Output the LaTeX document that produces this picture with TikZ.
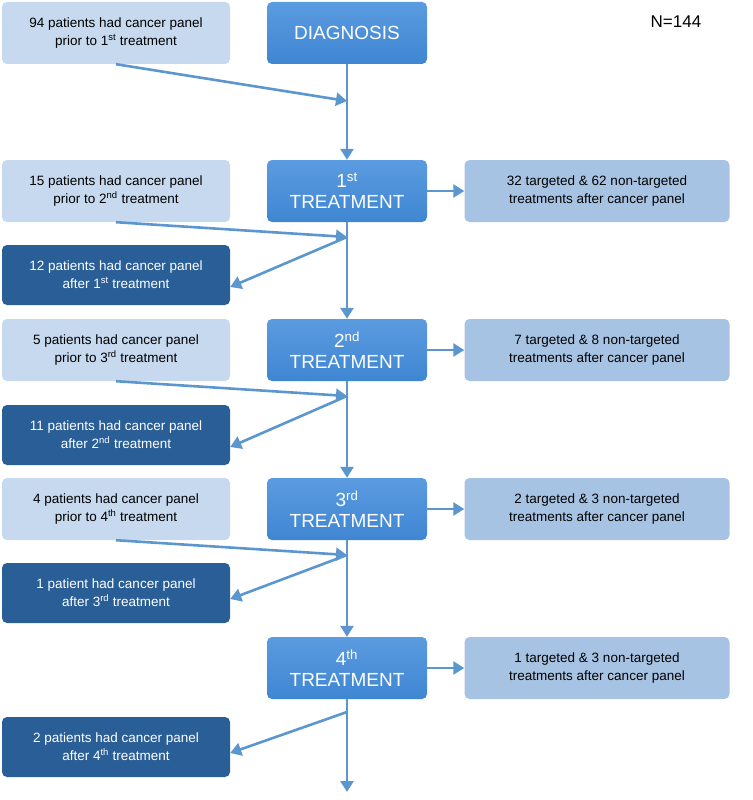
\documentclass[tikz,border=0pt]{standalone}
\usepackage{fontspec}
\setmainfont{Liberation Sans}
\usetikzlibrary{arrows.meta}
\definecolor{mainb}{HTML}{3F86D2}
\definecolor{mainb2}{HTML}{5B9BE0}
\definecolor{lightb}{HTML}{C6D9EF}
\definecolor{midb}{HTML}{A7C3E3}
\definecolor{darkb}{HTML}{2A5E97}
\definecolor{arr}{HTML}{5B96CF}
\begin{document}
\begin{tikzpicture}[x=1pt,y=-1pt,
 box/.style={rounded corners=5pt,align=center,inner sep=0pt},
 mainbox/.style={box,top color=mainb2,bottom color=mainb,minimum width=160pt,minimum height=62pt,text=white,font=\fontsize{19}{21}\selectfont},
 lbox/.style={box,fill=lightb,minimum width=228pt,minimum height=62pt,font=\fontsize{13.5}{18}\selectfont},
 rbox/.style={box,fill=midb,minimum width=265pt,minimum height=62pt,font=\fontsize{13.5}{18}\selectfont},
 dbox/.style={box,fill=darkb,text=white,minimum width=228pt,minimum height=60pt,font=\fontsize{13.5}{18}\selectfont},
 ar/.style={draw=arr,line width=2.6pt,-{Triangle[length=11pt,width=13pt]}}]
\useasboundingbox (0,0) rectangle (752,800);
\node[mainbox] (d) at (347,33) {DIAGNOSIS};
\node[mainbox] (t1) at (347,191) {1\textsuperscript{st}\\TREATMENT};
\node[mainbox] (t2) at (347,350) {2\textsuperscript{nd}\\TREATMENT};
\node[mainbox] (t3) at (347,509) {3\textsuperscript{rd}\\TREATMENT};
\node[mainbox] (t4) at (347,668) {4\textsuperscript{th}\\TREATMENT};
\node[font=\fontsize{17}{20}\selectfont] (n) at (676,22) {N=144};
\node[lbox] (p1) at (116,33) {94 patients had cancer panel\\prior to 1\textsuperscript{st} treatment};
\node[lbox] (p2) at (116,191) {15 patients had cancer panel\\prior to 2\textsuperscript{nd} treatment};
\node[lbox] (p3) at (116,350) {5 patients had cancer panel\\prior to 3\textsuperscript{rd} treatment};
\node[lbox] (p4) at (116,509) {4 patients had cancer panel\\prior to 4\textsuperscript{th} treatment};
\node[dbox] (a1) at (116,275) {12 patients had cancer panel\\after 1\textsuperscript{st} treatment};
\node[dbox] (a2) at (116,435) {11 patients had cancer panel\\after 2\textsuperscript{nd} treatment};
\node[dbox] (a3) at (116,593) {1 patient had cancer panel\\after 3\textsuperscript{rd} treatment};
\node[dbox] (a4) at (116,747) {2 patients had cancer panel\\after 4\textsuperscript{th} treatment};
\node[rbox] (r1) at (597,191) {32 targeted \& 62 non-targeted\\treatments after cancer panel};
\node[rbox] (r2) at (597,350) {7 targeted \& 8 non-targeted\\treatments after cancer panel};
\node[rbox] (r3) at (597,509) {2 targeted \& 3 non-targeted\\treatments after cancer panel};
\node[rbox] (r4) at (597,668) {1 targeted \& 3 non-targeted\\treatments after cancer panel};
\coordinate (m0) at (347,101);
\coordinate (m1) at (347,237);
\coordinate (m2) at (347,396);
\coordinate (m3) at (347,555);
\coordinate (m4) at (347,712);
\coordinate (end) at (347,792);
\draw[ar] (d) -- (t1);
\draw[ar] (t1) -- (t2);
\draw[ar] (t2) -- (t3);
\draw[ar] (t3) -- (t4);
\draw[ar] (t4) -- (end);
\draw[ar] (p1.south) ++(0,0) -- (m0);
\draw[ar] (p2.south) -- (m1);
\draw[ar] (p3.south) -- (m2);
\draw[ar] (p4.south) -- (m3);
\draw[ar] (m1) -- ([yshift=-12pt]a1.east);
\draw[ar] (m2) -- ([yshift=-12pt]a2.east);
\draw[ar] (m3) -- ([yshift=-6pt]a3.east);
\draw[ar] (m4) -- ([yshift=-6pt]a4.east);
\draw[ar] (t1) -- (r1);
\draw[ar] (t2) -- (r2);
\draw[ar] (t3) -- (r3);
\draw[ar] (t4) -- (r4);
\end{tikzpicture}
\end{document}
